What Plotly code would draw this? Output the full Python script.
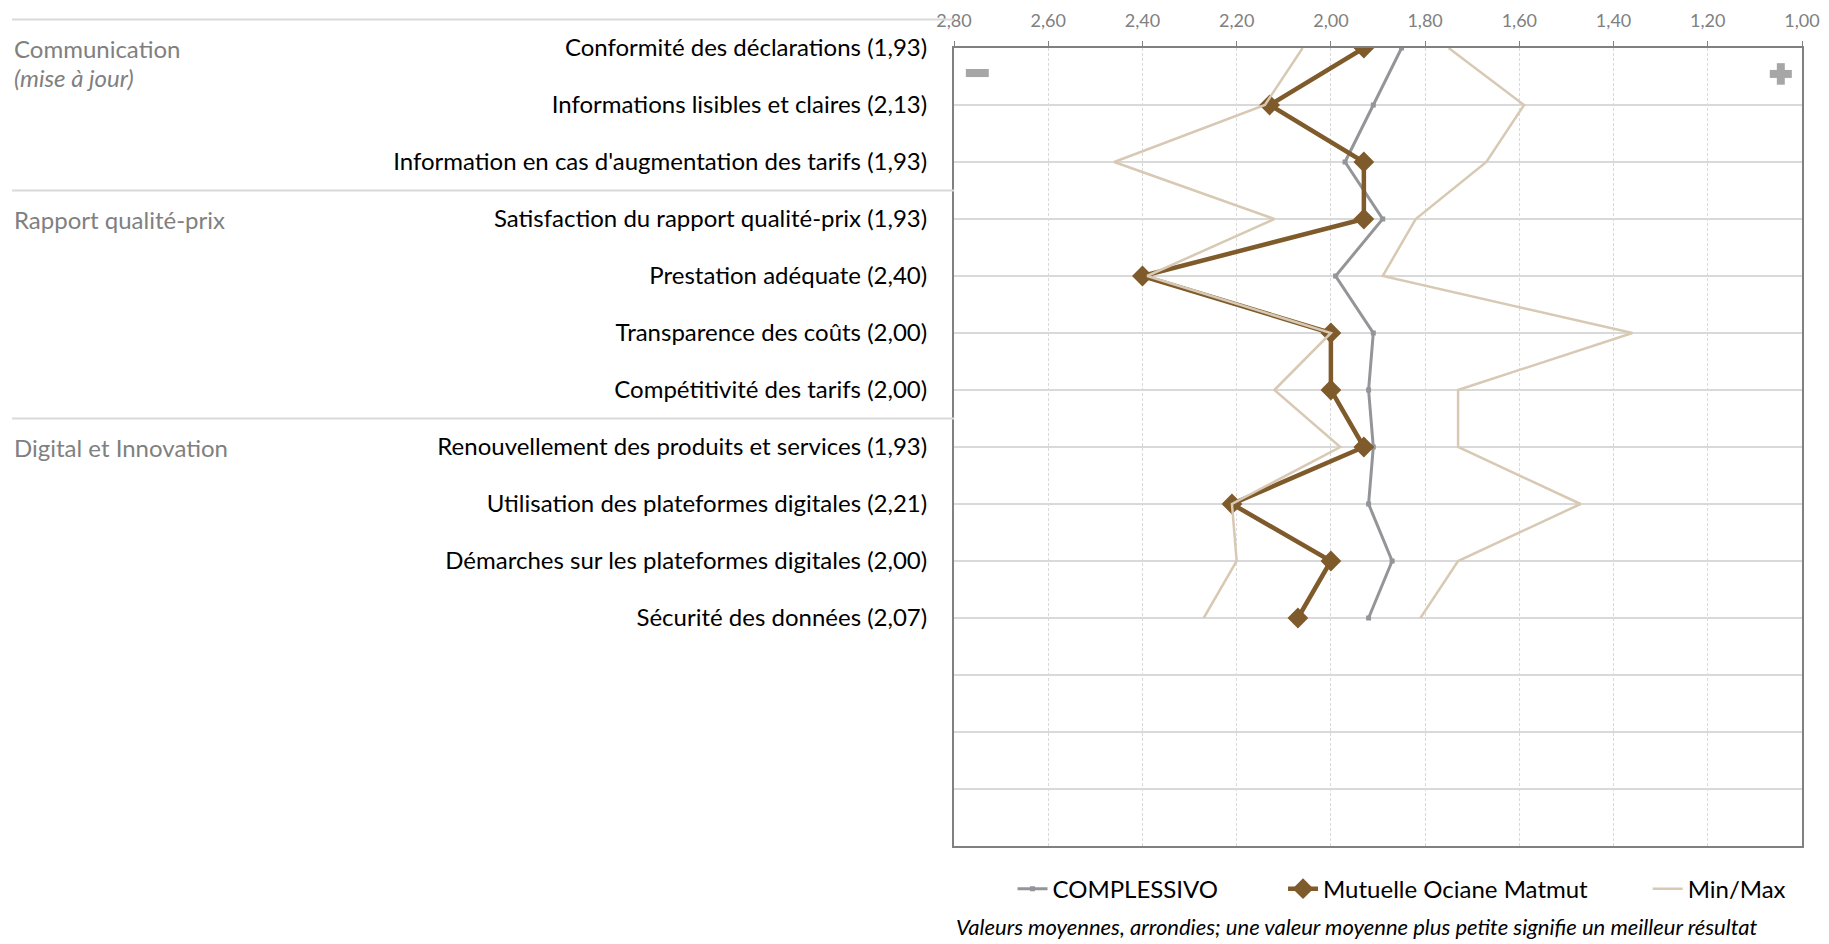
import plotly.graph_objects as go

# --- data ---
categories = [
    "Conformité des déclarations",
    "Informations lisibles et claires",
    "Information en cas d'augmentation des tarifs",
    "Satisfaction du rapport qualité-prix",
    "Prestation adéquate",
    "Transparence des coûts",
    "Compétitivité des tarifs",
    "Renouvellement des produits et services",
    "Utilisation des plateformes digitales",
    "Démarches sur les plateformes digitales",
    "Sécurité des données",
]
mutuelle = [1.93, 2.13, 1.93, 1.93, 2.40, 2.00, 2.00, 1.93, 2.21, 2.00, 2.07]
complessivo = [1.85, 1.91, 1.97, 1.89, 1.99, 1.91, 1.92, 1.91, 1.92, 1.87, 1.92]
max_vals = [2.06, 2.14, 2.46, 2.12, 2.39, 2.00, 2.12, 1.98, 2.21, 2.20, 2.27]
min_vals = [1.75, 1.59, 1.67, 1.82, 1.89, 1.36, 1.73, 1.73, 1.47, 1.73, 1.81]

sections = ["Communication", "Rapport qualité-prix", "Digital et Innovation"]
section_rows = [0, 3, 7]
n_slots = 15  # category slots on the axis (last four are empty)

x_ticks = [2.8, 2.6, 2.4, 2.2, 2.0, 1.8, 1.6, 1.4, 1.2, 1.0]

BROWN = "#7f5a2a"
GREY = "#939598"
BEIGE = "#d8c9b4"
FONT = "Lato"

rows = list(range(len(categories)))
labels = [f"{c} ({v:.2f})".replace(".", ",") for c, v in zip(categories, mutuelle)]

fig = go.Figure()
fig.add_trace(go.Scatter(
    x=complessivo, y=rows, name="COMPLESSIVO", mode="lines+markers",
    line=dict(color=GREY, width=3),
    marker=dict(symbol="square", size=5, color=GREY),
    legend="legend",
))
fig.add_trace(go.Scatter(
    x=mutuelle, y=rows, name="Mutuelle Ociane Matmut", mode="lines+markers",
    line=dict(color=BROWN, width=4.5),
    marker=dict(symbol="diamond", size=16, color=BROWN),
    legend="legend2",
))
fig.add_trace(go.Scatter(
    x=max_vals, y=rows, name="Min/Max", mode="lines",
    line=dict(color=BEIGE, width=2.5),
    legend="legend3",
))
fig.add_trace(go.Scatter(
    x=min_vals, y=rows, name="Min/Max", mode="lines", showlegend=False,
    line=dict(color=BEIGE, width=2.5),
    legend="legend3",
))

# section labels and separators on the left
left_edge = -942 / 848
annotations = []
for name, r in zip(sections, section_rows):
    annotations.append(dict(
        text=name, x=left_edge, xref="paper", y=r, yref="y",
        xanchor="left", yanchor="middle", showarrow=False,
        font=dict(family=FONT, size=24, color="#808080"),
    ))
annotations.append(dict(
    text="<i>(mise à jour)</i>", x=left_edge, xref="paper", y=0.52, yref="y",
    xanchor="left", yanchor="middle", showarrow=False,
    font=dict(family=FONT, size=24, color="#808080"),
))
annotations.append(dict(
    text="<i>Valeurs moyennes, arrondies; une valeur moyenne plus petite signifie un meilleur résultat</i>",
    x=0, xref="paper", y=-0.101, yref="paper", xanchor="left", yanchor="middle",
    showarrow=False, font=dict(family=FONT, size=22, color="#000000"),
))

shapes = []
for r in [-0.5, 2.5, 6.5]:
    yp = 1 - r / (n_slots - 1)
    shapes.append(dict(type="line", xref="paper", yref="paper",
                       x0=left_edge, x1=0, y0=yp, y1=yp,
                       line=dict(color="#d9d9d9", width=2)))
# "-" and "+" badges inside the plot
PM = "#a6a6a6"
shapes.append(dict(type="rect", xref="paper", yref="paper", x0=0.014, x1=0.041,
                   y0=0.9636, y1=0.9737, fillcolor=PM, line=dict(width=0)))
shapes.append(dict(type="rect", xref="paper", yref="paper", x0=0.962, x1=0.988,
                   y0=0.9625, y1=0.9725, fillcolor=PM, line=dict(width=0)))
shapes.append(dict(type="rect", xref="paper", yref="paper", x0=0.9703, x1=0.9797,
                   y0=0.954, y1=0.981, fillcolor=PM, line=dict(width=0)))

legend_style = dict(orientation="h", xanchor="left", y=-0.054, yanchor="middle",
                    font=dict(family=FONT, size=24, color="#000000"),
                    bgcolor="rgba(0,0,0,0)")

# the page body adds an 8px offset, so the figure is 8px smaller
fig.update_layout(
    width=1821, height=936,
    margin=dict(l=946, r=27, t=40, b=98, autoexpand=False),
    paper_bgcolor="white", plot_bgcolor="white",
    font=dict(family=FONT, color="#000000"),
    showlegend=True,
    legend=dict(x=0.069, **legend_style),
    legend2=dict(x=0.388, **legend_style),
    legend3=dict(x=0.818, **legend_style),
    annotations=annotations,
    shapes=shapes,
)
fig.update_xaxes(
    range=[2.8, 1.0], side="top", automargin=False,
    tickvals=x_ticks, ticktext=[f"{v:.2f}".replace(".", ",") for v in x_ticks],
    tickfont=dict(family=FONT, size=18, color="#808080"),
    ticks="outside", ticklen=5, tickcolor="#808080", ticklabelstandoff=7,
    showgrid=True, gridcolor="#d9d9d9", griddash="3px,2px", gridwidth=1,
    showline=True, linecolor="#808080", linewidth=2, mirror=True,
    zeroline=False,
)
fig.update_yaxes(
    range=[n_slots - 1, 0], automargin=False,
    tickvals=list(range(n_slots)),
    ticktext=labels + [""] * (n_slots - len(labels)),
    tickfont=dict(family=FONT, size=24, color="#000000"),
    ticks="outside", ticklen=20, tickcolor="rgba(0,0,0,0)",
    showgrid=True, gridcolor="#d9d9d9", gridwidth=2,
    showline=True, linecolor="#808080", linewidth=2, mirror=True,
    zeroline=False,
)

fig.write_html("out.html")
